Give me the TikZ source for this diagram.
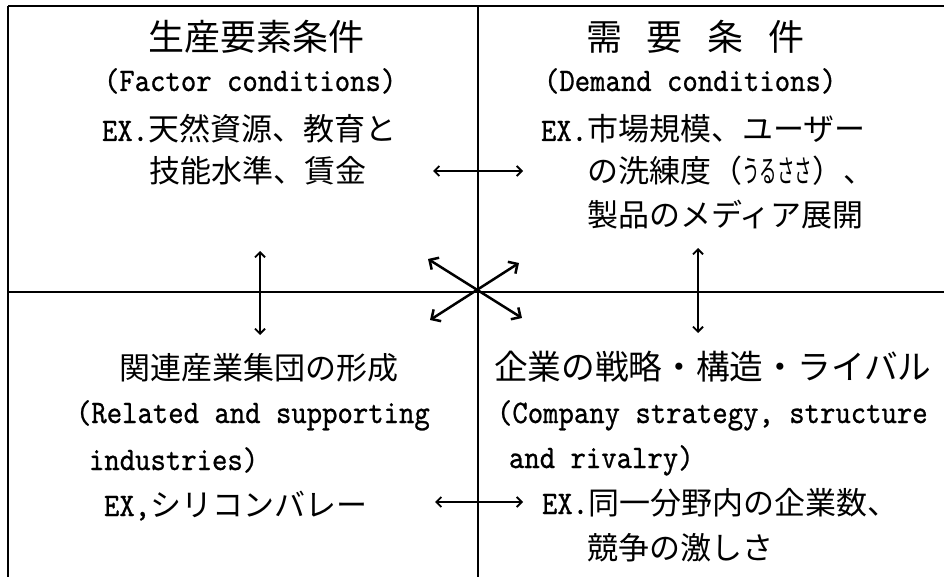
\documentclass[tikz,border=0pt]{standalone}
\usepackage{fontspec}
\usepackage{graphicx}
\newfontfamily\lmm{lmmono10-regular}[Extension=.otf,FakeBold=0.8]
\newfontfamily\jpf{Noto Sans CJK JP}
\usetikzlibrary{arrows.meta}
\newcommand\LX[1]{\scalebox{1}[1.12]{\lmm\fontsize{29.3}{34}\selectfont #1}}
\newcommand\JB{\jpf\fontsize{31}{36}\selectfont}
\tikzset{
  txt/.style={anchor=base west, inner sep=0pt, outer sep=0pt},
  frame/.style={line width=1.8pt, black},
  link/.style={line width=1.8pt, {Straight Barb[length=5pt,width=10pt]}-{Straight Barb[length=5pt,width=10pt]}},
  cross/.style={line width=2.5pt, {Straight Barb[length=7pt,width=14pt]}-{Straight Barb[length=7pt,width=14pt]}}
}
\begin{document}
\begin{tikzpicture}[x=1pt,y=-1pt]
\useasboundingbox (0,0) rectangle (944,577);
\fill[white] (0,0) rectangle (944,577);
% frame
\draw[frame] (8,6) -- (944,6);
\draw[frame] (8,6) -- (8,577);
\draw[frame] (478,6) -- (478,577);
\draw[frame] (8,292) -- (944,292);

% top-left
\node[txt] (tl1) at (148,51) {\jpf\fontsize{36}{40}\selectfont 生産要素条件};
\node[txt] (tl2) at (104,91) {\LX{(Factor conditions)}};
\node[txt] (tl3) at (102,141) {\LX{EX.}\JB 天然資源、教育と};
\node[txt] (tl4) at (149,183) {\JB 技能水準、賃金};

% top-right
\node[txt] (tr1) at (586,51) {\jpf\fontsize{36}{40}\selectfont 需\hspace{25pt}要\hspace{25pt}条\hspace{25pt}件};
\node[txt] (tr2) at (544,91) {\LX{(Demand conditions)}};
\node[txt] (tr3) at (541,141) {\LX{EX.}\JB 市場規模、ユーザー};
\node[txt] (tr4) at (587,183) {\JB の洗練度（\scalebox{0.565}[1]{うるささ}）、};
\node[txt] (tr5) at (587,227) {\JB 製品のメディア展開};

% bottom-left
\node[txt] (bl1) at (119,379) {\JB 関連産業集団の形成};
\node[txt] (bl2) at (76,423) {\LX{(Related and supporting}};
\node[txt] (bl3) at (89,470) {\LX{industries)}};
\node[txt] (bl4) at (104,516) {\LX{EX,}\JB シリコンバレー};

% bottom-right
\node[txt] (br1) at (494,379) {\jpf\fontsize{33.7}{38}\selectfont 企業の戦略・構造・ライバル};
\node[txt] (br2) at (497,423) {\LX{(Company strategy, structure}};
\node[txt] (br3) at (509,468) {\LX{and rivalry)}};
\node[txt] (br4) at (542,514) {\LX{EX.}\JB 同一分野内の企業数、};
\node[txt] (br5) at (587,559) {\JB 競争の激しさ};

% arrow end points
\coordinate (hta) at (433,171);
\coordinate (htb) at (523,171);
\coordinate (hba) at (435,502);
\coordinate (hbb) at (523,502);
\coordinate (vla) at (260,251);
\coordinate (vlb) at (260,335);
\coordinate (vra) at (698,248);
\coordinate (vrb) at (698,333);
\coordinate (nw) at (428,259);
\coordinate (se) at (522,318);
\coordinate (ne) at (519,263);
\coordinate (sw) at (430,320);

\draw[link] (hta) -- (htb);
\draw[link] (hba) -- (hbb);
\draw[link] (vla) -- (vlb);
\draw[link] (vra) -- (vrb);
\draw[cross] (nw) -- (se);
\draw[cross] (ne) -- (sw);
\end{tikzpicture}
\end{document}
